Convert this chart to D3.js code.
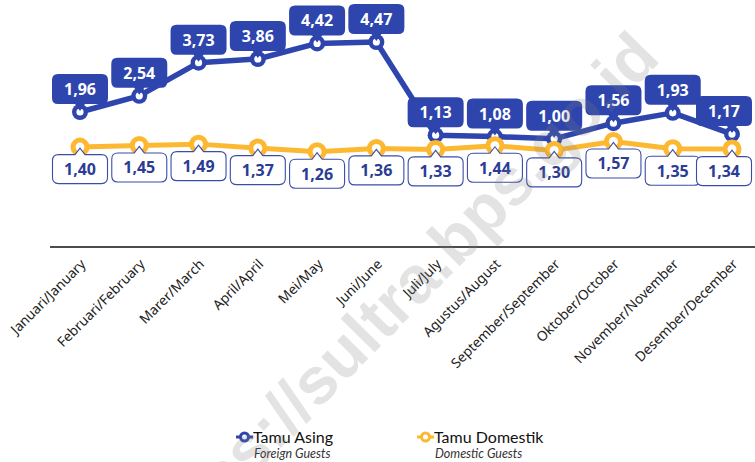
<!DOCTYPE html>
<html>
<head>
<meta charset="utf-8">
<script src="https://cdn.jsdelivr.net/npm/d3@7"></script>
<style>
  html, body { margin: 0; padding: 0; background: #fff; }
  svg { display: block; }
</style>
</head>
<body>
<div id="chart"></div>
<script>
const months = ["Januari/January","Februari/February","Marer/March","April/April","Mei/May","Juni/June","Juli/July","Agustus/August","September/September","Oktober/October","November/November","Desember/December"];
const foreign = [1.96,2.54,3.73,3.86,4.42,4.47,1.13,1.08,1.00,1.56,1.93,1.17];
const domestic = [1.40,1.45,1.49,1.37,1.26,1.36,1.33,1.44,1.30,1.57,1.35,1.34];
const seriesNames = ["Tamu Asing","Tamu Domestik"];
const seriesSub = ["Foreign Guests","Domestic Guests"];

const W = 755, H = 462;
const BLUE = "#2E45AE", ORANGE = "#FDB831", NAVY = "#2B3C94";
const fmt = v => d3.format(".2f")(v).replace(".", ",");

const svg = d3.select("#chart").append("svg").attr("width", W).attr("height", H);

const x = d3.scalePoint().domain(months).range([80, 732]);
const yF = d3.scaleLinear().domain([0, 5]).range([166.7, 27.2]);
const yD = d3.scaleLinear().domain([0, 2]).range([193.3, 127.3]);

// x axis
const xAxis = d3.axisBottom(x).tickSize(0).tickPadding(0);
const gx = svg.append("g").attr("transform", "translate(0,247)").call(xAxis);
gx.select(".domain").attr("d", "M50,0H755").attr("stroke", "#111").attr("stroke-width", 1.4);
gx.selectAll(".tick text")
  .attr("font-family", "'Noto Sans', 'Open Sans', sans-serif")
  .attr("font-size", 13.7)
  .attr("fill", "#222")
  .attr("text-anchor", "end")
  .attr("dy", 0).attr("y", 0)
  .attr("transform", "translate(6,18) rotate(-45)");

const line = (ys) => d3.line().x((d, i) => x(months[i])).y(d => ys(d));

// foreign series
svg.append("path").datum(foreign).attr("d", line(yF)).attr("fill", "none")
  .attr("stroke", BLUE).attr("stroke-width", 5.5).attr("stroke-linejoin", "round");
const fm = svg.append("g").selectAll("g").data(foreign).join("g")
  .attr("transform", (d, i) => `translate(${x(months[i])},${yF(d)})`);
fm.append("circle").attr("r", 8).attr("fill", BLUE);
fm.append("circle").attr("r", 3.6).attr("fill", "#fff");

// domestic series
svg.append("path").datum(domestic).attr("d", line(yD)).attr("fill", "none")
  .attr("stroke", ORANGE).attr("stroke-width", 5).attr("stroke-linejoin", "round");
const dm = svg.append("g").selectAll("g").data(domestic).join("g")
  .attr("transform", (d, i) => `translate(${x(months[i])},${yD(d)})`);
dm.append("circle").attr("r", 9.5).attr("fill", ORANGE);
dm.append("circle").attr("r", 4.5).attr("fill", "#fff");

const BW = 56, BH = 30, R = 6;
const boxX = cx => Math.min(cx - BW / 2, 752 - BW);

// foreign labels (callout above)
const fl = svg.append("g").selectAll("g").data(foreign).join("g");
fl.each(function(d, i) {
  const g = d3.select(this);
  const cx = x(months[i]), py = yF(d);
  const bx = boxX(cx), by = py - 8 - BH;
  const tipY = py - 1;
  const p = `M${bx + R},${by} H${bx + BW - R} Q${bx + BW},${by} ${bx + BW},${by + R} V${by + BH - R} Q${bx + BW},${by + BH} ${bx + BW - R},${by + BH}` +
    ` H${cx + 5} L${cx},${tipY} L${cx - 5},${by + BH} H${bx + R} Q${bx},${by + BH} ${bx},${by + BH - R} V${by + R} Q${bx},${by} ${bx + R},${by} Z`;
  g.append("path").attr("d", p).attr("fill", BLUE);
  g.append("text").attr("x", bx + BW / 2).attr("y", by + BH / 2 + 6)
    .attr("text-anchor", "middle").attr("fill", "#fff")
    .attr("font-family", "'Noto Sans', sans-serif").attr("font-weight", 700).attr("font-size", 16)
    .text(fmt(d));
});

// domestic labels (callout below)
const dl = svg.append("g").selectAll("g").data(domestic).join("g");
dl.each(function(d, i) {
  const g = d3.select(this);
  const cx = x(months[i]), py = yD(d);
  const bx = boxX(cx) + 0.5, by = py + 7.5;
  const tipY = py + 1;
  const w = BW - 1, h = BH - 1;
  const p = `M${bx + R},${by} H${cx - 5} L${cx},${tipY} L${cx + 5},${by} H${bx + w - R} Q${bx + w},${by} ${bx + w},${by + R} V${by + h - R} Q${bx + w},${by + h} ${bx + w - R},${by + h}` +
    ` H${bx + R} Q${bx},${by + h} ${bx},${by + h - R} V${by + R} Q${bx},${by} ${bx + R},${by} Z`;
  g.append("path").attr("d", p).attr("fill", "#fff").attr("stroke", "#3A4DA8").attr("stroke-width", 1.1);
  g.append("text").attr("x", bx + w / 2).attr("y", by + h / 2 + 6)
    .attr("text-anchor", "middle").attr("fill", NAVY)
    .attr("font-family", "'Noto Sans', sans-serif").attr("font-weight", 700).attr("font-size", 16)
    .text(fmt(d));
});

// legend
const legendX = [236, 417];
const legendColors = [BLUE, ORANGE];
const lg = svg.append("g").selectAll("g").data(seriesNames).join("g")
  .attr("transform", (d, i) => `translate(${legendX[i]},437)`);
lg.append("line").attr("x1", 0).attr("x2", 17).attr("y1", 0).attr("y2", 0)
  .attr("stroke", (d, i) => legendColors[i]).attr("stroke-width", 3);
lg.append("circle").attr("cx", 8.5).attr("r", 5.5).attr("fill", (d, i) => legendColors[i]);
lg.append("circle").attr("cx", 8.5).attr("r", 2.5).attr("fill", "#fff");
lg.append("text").attr("x", 17).attr("y", 6).attr("fill", "#111")
  .attr("font-family", "Lato, 'Noto Sans', sans-serif").attr("font-size", 16).text(d => d);
lg.append("text").attr("x", 18).attr("y", 20.5).attr("fill", "#333").attr("font-style", "italic")
  .attr("font-family", "Lato, 'Noto Sans', sans-serif").attr("font-size", 12.5).text((d, i) => seriesSub[i]);

// watermark
svg.append("text").attr("transform", "translate(662,60) rotate(-45.5)")
  .attr("text-anchor", "end").attr("fill", "#808080").attr("fill-opacity", 0.22)
  .attr("font-family", "'Liberation Sans', Arial, sans-serif").attr("font-weight", 700).attr("font-size", 66)
  .text("https://sultra.bps.go.id");
</script>
</body>
</html>
